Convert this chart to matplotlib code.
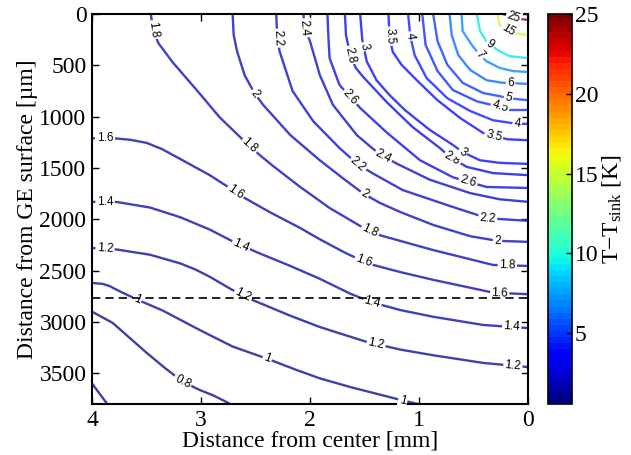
import numpy as np
import matplotlib as mpl
import matplotlib.pyplot as plt

plt.rcParams['font.family'] = 'Liberation Serif'
plt.rcParams['mathtext.fontset'] = 'custom'
plt.rcParams['mathtext.rm'] = 'Liberation Serif'
plt.rcParams['mathtext.it'] = 'Liberation Serif:italic'

# iso-temperature lines: (distance from center [mm], depth [um])
iso_0_6 = [(4.00, 3600), (3.93, 3700), (3.86, 3800)]
iso_0_8 = [(4.00, 2900), (3.81, 3010), (3.65, 3160), (3.50, 3300), (3.33, 3450),
           (3.17, 3580), (3.02, 3660), (2.89, 3715), (2.73, 3800)]
iso_1_0 = [(4.00, 2620), (3.90, 2630), (3.84, 2650), (3.74, 2705), (3.59, 2780),
           (3.35, 2890), (3.01, 3080), (2.71, 3240), (2.39, 3360), (2.12, 3470),
           (1.91, 3550), (1.63, 3635), (1.17, 3760), (1.01, 3800)]
iso_1_2 = [(4.00, 2280), (3.77, 2295), (3.47, 2345), (3.19, 2430), (3.05, 2490),
           (2.92, 2560), (2.71, 2690), (2.52, 2790), (2.18, 2940), (1.91, 3050),
           (1.48, 3195), (1.17, 3270), (0.87, 3325), (0.41, 3400), (0.00, 3440)]
iso_1_4 = [(4.00, 1830), (3.77, 1832), (3.47, 1885), (3.19, 1980), (2.92, 2100),
           (2.71, 2215), (2.49, 2320), (2.18, 2455), (1.91, 2580), (1.63, 2725),
           (1.43, 2810), (1.17, 2885), (0.87, 2950), (0.41, 3030), (0.00, 3060)]
iso_1_6 = [(4.00, 1210), (3.81, 1210), (3.65, 1225), (3.50, 1255), (3.36, 1315),
           (3.22, 1395), (2.92, 1570), (2.73, 1700), (2.62, 1780), (2.37, 1930),
           (2.09, 2085), (1.91, 2195), (1.68, 2325), (1.51, 2410), (1.42, 2445),
           (1.17, 2515), (0.87, 2590), (0.32, 2715), (0.00, 2730)]
iso_1_8 = [(3.46, 0), (3.44, 155), (3.39, 285), (3.33, 370), (3.26, 470),
           (3.04, 740), (2.83, 1005), (2.64, 1200), (2.46, 1375), (2.34, 1480),
           (2.09, 1685), (1.82, 1890), (1.54, 2065), (1.36, 2155), (0.87, 2300),
           (0.32, 2445), (0.00, 2455)]
iso_2_0 = [(2.71, 0), (2.70, 205), (2.67, 360), (2.60, 595), (2.51, 770),
           (2.43, 885), (2.18, 1180), (1.91, 1425), (1.68, 1615), (1.51, 1750),
           (1.36, 1840), (1.17, 1930), (0.87, 2055), (0.53, 2165), (0.28, 2210),
           (0.00, 2220)]
iso_2_2 = [(2.31, 0), (2.30, 235), (2.28, 360), (2.16, 750), (1.97, 1045),
           (1.73, 1305), (1.56, 1465), (1.42, 1555), (1.15, 1715), (0.69, 1880),
           (0.37, 1990), (0.00, 2015)]
iso_2_4 = [(2.06, 0), (2.05, 135), (2.00, 265), (1.91, 595), (1.79, 885),
           (1.57, 1180), (1.42, 1315), (1.33, 1385), (1.20, 1460), (0.90, 1615),
           (0.53, 1745), (0.26, 1805), (0.00, 1830)]
iso_2_6 = [(1.84, 0), (1.83, 255), (1.82, 430), (1.73, 690), (1.63, 810),
           (1.54, 915), (1.29, 1160), (0.99, 1425), (0.69, 1590), (0.55, 1635),
           (0.38, 1685), (0.00, 1695)]
iso_2_8 = [(1.68, 0), (1.67, 205), (1.63, 400), (1.58, 525), (1.51, 615),
           (1.29, 865), (1.06, 1100), (0.81, 1305), (0.70, 1405), (0.56, 1490),
           (0.32, 1550), (0.00, 1570)]
iso_3_0 = [(1.54, 0), (1.52, 255), (1.48, 460), (1.39, 645), (1.27, 790),
           (1.13, 935), (0.90, 1130), (0.69, 1275), (0.60, 1345), (0.44, 1425),
           (0.26, 1450), (0.00, 1460)]
iso_3_5 = [(1.28, 0), (1.27, 235), (1.24, 370), (1.16, 495), (1.02, 645),
           (0.83, 840), (0.62, 1015), (0.41, 1160), (0.19, 1220), (0.00, 1230)]
iso_4_0 = [(1.10, 0), (1.08, 215), (1.04, 400), (0.93, 625), (0.74, 820),
           (0.53, 945), (0.32, 1035), (0.10, 1070), (0.00, 1070)]
iso_4_5 = [(0.97, 0), (0.94, 300), (0.83, 555), (0.69, 740), (0.47, 850),
           (0.26, 905), (0.17, 935), (0.00, 935)]
iso_5_0 = [(0.87, 0), (0.83, 265), (0.74, 495), (0.60, 670), (0.41, 770),
           (0.26, 800), (0.18, 820), (0.00, 840)]
iso_6_0 = [(0.72, 0), (0.70, 205), (0.64, 400), (0.53, 545), (0.38, 645),
           (0.23, 670), (0.00, 680)]
iso_7_0 = [(0.61, 0), (0.60, 165), (0.51, 310), (0.44, 400), (0.38, 460),
           (0.26, 525), (0.14, 555), (0.00, 565)]
iso_9_0 = [(0.47, 0), (0.44, 165), (0.37, 285), (0.28, 350), (0.17, 410),
           (0.00, 430)]
iso_15 = [(0.28, 0), (0.26, 105), (0.14, 185), (0.00, 205)]
iso_25 = [(0.23, 0), (0.12, 40), (0.00, 58)]

contours = [(0.6, iso_0_6), (0.8, iso_0_8), (1.0, iso_1_0), (1.2, iso_1_2),
            (1.4, iso_1_4), (1.6, iso_1_6), (1.8, iso_1_8), (2.0, iso_2_0),
            (2.2, iso_2_2), (2.4, iso_2_4), (2.6, iso_2_6), (2.8, iso_2_8),
            (3.0, iso_3_0), (3.5, iso_3_5), (4.0, iso_4_0), (4.5, iso_4_5),
            (5.0, iso_5_0), (6.0, iso_6_0), (7.0, iso_7_0), (9.0, iso_9_0),
            (15, iso_15), (25, iso_25)]

# inline label spots (level, x [mm], y [um])
label_spots = [(1.8, 3.45, 155), (2.2, 2.30, 235), (2.4, 2.05, 135), (2.8, 1.63, 400),
               (3.0, 1.51, 320), (3.5, 1.27, 215), (4.0, 1.08, 215),
               (2.0, 2.50, 770), (2.6, 1.63, 810), (1.8, 2.57, 1300),
               (1.6, 3.88, 1210), (1.4, 3.88, 1830), (1.2, 3.88, 2280),
               (1.6, 2.69, 1745), (1.4, 2.64, 2270), (1.2, 2.62, 2750),
               (1.0, 3.59, 2790), (0.8, 3.17, 3585), (1.0, 2.39, 3350), (1.0, 1.15, 3770),
               (1.2, 1.40, 3245), (1.4, 1.43, 2815), (1.6, 1.51, 2415), (1.8, 1.45, 2115),
               (2.0, 1.51, 1775), (2.2, 1.56, 1465), (2.4, 1.33, 1395),
               (2.8, 0.70, 1420), (3.0, 0.60, 1345), (2.6, 0.55, 1635), (2.2, 0.37, 2000),
               (2.0, 0.28, 2220), (1.8, 0.19, 2455), (1.6, 0.26, 2725), (1.4, 0.15, 3060),
               (1.2, 0.14, 3440), (3.5, 0.32, 1210), (4.0, 0.10, 1070), (4.5, 0.26, 915),
               (5.0, 0.18, 820), (6.0, 0.16, 675), (7.0, 0.44, 400), (9.0, 0.35, 300),
               (15, 0.19, 170), (25, 0.14, 55)]

t_min, t_max = 0.55, 25.0
cbar_ticks = [5, 10, 15, 20, 25]
cut_depth = 2770

cmap = mpl.colormaps['jet'].resampled(64)
norm = mpl.colors.Normalize(t_min, t_max)

fig = plt.figure(figsize=(6.31, 4.55), dpi=100)
ax = fig.add_axes([0.1458, 0.1121, 0.691, 0.857])
cax = fig.add_axes([0.8685, 0.1121, 0.038, 0.857])

ax.set_xlim(4, 0)
ax.set_ylim(3800, 0)

lines = {}
for lev, pts in contours:
    pts = np.array(pts, dtype=float)
    lines[lev] = pts
    # the original lines look lighter than the raw jet colour
    c = 0.75 * np.array(cmap(norm(lev))[:3]) + 0.25
    ax.plot(pts[:, 0], pts[:, 1], color=c, lw=1.7, zorder=2)


def place_label(pts, lx, ly, text):
    disp = ax.transData.transform(pts)
    p = ax.transData.transform((lx, ly))
    best = None
    for a, b in zip(disp[:-1], disp[1:]):
        d = b - a
        t = np.clip(np.dot(p - a, d) / np.dot(d, d), 0, 1)
        q = a + t * d
        dist = np.hypot(*(p - q))
        if best is None or dist < best[0]:
            best = (dist, q, d)
    _, q, d = best
    ang = np.degrees(np.arctan2(d[1], d[0]))
    if ang > 90:
        ang -= 180
    if ang < -90:
        ang += 180
    x, y = ax.transData.inverted().transform(q)
    ax.text(x, y, text, rotation=ang, rotation_mode='anchor', ha='center', va='center',
            fontsize=8.5, family='Liberation Sans', zorder=3,
            bbox=dict(boxstyle='square,pad=0.12', fc='white', ec='none'))


for lev, lx, ly in label_spots:
    place_label(lines[lev], lx, ly, '%g' % lev)

ax.axhline(cut_depth, color='k', ls=(0, (5, 3)), lw=1.2, zorder=4)

ax.set_xticks([4, 3, 2, 1, 0])
ax.set_yticks(np.arange(0, 3501, 500))
ax.tick_params(direction='in', top=True, right=True, length=5, width=1, labelsize=17, pad=4)
for s in ax.spines.values():
    s.set_linewidth(1.5)
ax.set_xlabel('Distance from center [mm]', fontsize=17, labelpad=0)
ax.set_ylabel('Distance from GE surface [\u00b5m]', fontsize=17, labelpad=1)

sm = mpl.cm.ScalarMappable(norm=norm, cmap=cmap)
cb = fig.colorbar(sm, cax=cax, ticks=cbar_ticks)
cb.outline.set_linewidth(1.2)
cax.tick_params(direction='in', length=4, width=1, labelsize=17, pad=2)
cb.set_label(r'T$-$T$_{\mathrm{sink}}$ [K]', fontsize=17, labelpad=1)

fig.savefig('out.png', dpi=100)
